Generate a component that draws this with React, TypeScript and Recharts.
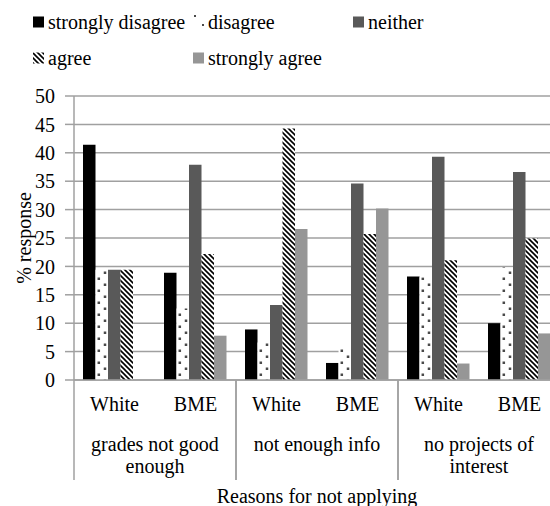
import { Bar, BarChart, CartesianGrid, XAxis, YAxis } from "recharts";

// categories
const reasons = ["grades not good enough", "not enough info", "no projects of interest"];
const reasonLines = [["grades not good", "enough"], ["not enough info"], ["no projects of", "interest"]];
const races = ["White", "BME"];

// % response, order: grades W, grades BME, info W, info BME, projects W, projects BME
const stronglyDisagree = [41.4, 18.9, 8.9, 3.0, 18.2, 10.0];
const disagree = [19.4, 12.6, 6.6, 5.9, 18.1, 19.8];
const neither = [19.4, 37.9, 13.2, 34.6, 39.3, 36.6];
const agree = [19.4, 22.2, 44.3, 25.7, 21.1, 24.9];
const stronglyAgree = [0, 7.8, 26.6, 30.2, 2.9, 8.2];

const yTicks = [0, 5, 10, 15, 20, 25, 30, 35, 40, 45, 50];

const series = [
  { key: "sd", name: "strongly disagree", values: stronglyDisagree, fill: "#000000" },
  { key: "d", name: "disagree", values: disagree, fill: "url(#dotFill)" },
  { key: "n", name: "neither", values: neither, fill: "#595959" },
  { key: "a", name: "agree", values: agree, fill: "url(#stripeFill)" },
  { key: "sa", name: "strongly agree", values: stronglyAgree, fill: "#969696" },
];

const rows = reasons.flatMap((reason, gi) =>
  races.map((race, ri) => {
    const i = gi * 2 + ri;
    const row: Record<string, string | number> = { key: `${reason}|${race}`, race, reason };
    for (const s of series) row[s.key] = s.values[i];
    return row;
  })
);

const FONT = "Liberation Serif";
const GRID = "#a0a0a0";
const DOT = "#4a4a4a";
const PLOT_LEFT = 74;
const BAR = 12.5;
const CAT_W = 81;
const CAT_GAP = (CAT_W - BAR * series.length) / 2;

function RaceTick(props: any) {
  const { x, y, index, payload } = props;
  const half = payload?.offset || CAT_W / 2;
  const row = rows[index];
  const gi = Math.floor(index / 2);
  const first = index % 2 === 0;
  return (
    <g>
      <text x={x} y={y + 31} textAnchor="middle" fontSize={20} fontFamily={FONT} fill="#000">
        {row ? row.race : ""}
      </text>
      {first && (
        <>
          <line x1={x - half} x2={x - half} y1={y} y2={y + 100} stroke={GRID} strokeWidth={1.5} />
          {reasonLines[gi].map((ln, li) => (
            <text
              key={li}
              x={x + half}
              y={y + 71 + li * 22}
              textAnchor="middle"
              fontSize={20}
              fontFamily={FONT}
              fill="#000"
            >
              {ln}
            </text>
          ))}
        </>
      )}
      {!first && (
        <line x1={x + half} x2={x + half} y1={y} y2={y + 100} stroke={GRID} strokeWidth={1.5} />
      )}
    </g>
  );
}

export default function App() {
  const dotX1 = CAT_GAP + BAR + 1.8;
  const dotX2 = CAT_GAP + BAR + 8;
  return (
    <div
      style={{
        position: "absolute",
        left: 0,
        top: 0,
        width: 550,
        height: 506,
        overflow: "hidden",
        background: "#fff",
        fontFamily: FONT,
      }}
    >
      <div style={{ position: "absolute", left: 0, top: 0 }}>
        <BarChart
          width={580}
          height={506}
          data={rows}
          margin={{ top: 96, right: 20, bottom: 26, left: 0 }}
          barSize={BAR}
          barGap={0}
        >
          <CartesianGrid vertical={false} stroke={GRID} strokeWidth={1.5} />
          <XAxis
            dataKey="key"
            height={100}
            interval={0}
            tickSize={0}
            tickMargin={0}
            axisLine={{ stroke: GRID, strokeWidth: 1.5 }}
            tick={<RaceTick />}
            label={(p: any) => {
              const vb = p?.viewBox || { x: 74, y: 380, width: 486 };
              return (
                <text
                  x={vb.x + vb.width / 2}
                  y={vb.y + 123}
                  textAnchor="middle"
                  fontSize={20}
                  fontFamily={FONT}
                  fill="#000"
                >
                  Reasons for not applying
                </text>
              );
            }}
          />
          <YAxis
            width={74}
            domain={[0, 50]}
            ticks={yTicks}
            interval={0}
            tickSize={9}
            tickMargin={10}
            axisLine={{ stroke: GRID, strokeWidth: 1.5 }}
            tickLine={{ stroke: GRID, strokeWidth: 1.5 }}
            tick={{ fill: "#000", fontSize: 20, fontFamily: FONT }}
            label={(p: any) => {
              const vb = p?.viewBox || { x: 0, y: 96, width: 74, height: 284 };
              const cy = vb.y + vb.height / 2;
              return (
                <text
                  x={31}
                  y={cy}
                  transform={`rotate(-90, 31, ${cy})`}
                  textAnchor="middle"
                  fontSize={20}
                  fontFamily={FONT}
                  fill="#000"
                >
                  % response
                </text>
              );
            }}
          />
          {series.map((s) => (
            <Bar key={s.key} dataKey={s.key} name={s.name} fill={s.fill} isAnimationActive={false} />
          ))}
        </BarChart>
      </div>
      <svg width={550} height={80} style={{ position: "absolute", left: 0, top: 0 }}>
        <defs>
          <pattern id="dotFill" patternUnits="userSpaceOnUse" x={PLOT_LEFT} y={0} width={CAT_W} height={12}>
            <rect width={CAT_W} height={12} fill="#fff" />
            <rect x={dotX1} y={1.5} width={2.5} height={2.5} fill={DOT} />
            <rect x={dotX2} y={7.5} width={2.5} height={2.5} fill={DOT} />
          </pattern>
          <pattern id="stripeFill" patternUnits="userSpaceOnUse" width={5} height={5}>
            <rect width={5} height={5} fill="#fff" />
            <path d="M-1,-1 L6,6 M-1,4 L1,6 M4,-1 L6,1" stroke="#000" strokeWidth={1.6} />
          </pattern>
        </defs>
        {series.map((s, i) => {
          const col = i % 3;
          const row = Math.floor(i / 3);
          const sx = 33 + col * 160;
          const cy = 22 + row * 36;
          let swatch;
          if (s.key === "d") {
            swatch = (
              <g>
                <rect x={sx + 1} y={cy - 7} width={2} height={2} fill={DOT} />
                <rect x={sx + 9} y={cy + 2} width={2} height={2} fill={DOT} />
              </g>
            );
          } else {
            swatch = <rect x={sx} y={cy - 5.5} width={11} height={11} fill={s.fill} />;
          }
          return (
            <g key={s.key}>
              {swatch}
              <text x={sx + 15} y={cy + 6.5} fontSize={20} fontFamily={FONT} fill="#000">
                {s.name}
              </text>
            </g>
          );
        })}
      </svg>
    </div>
  );
}
